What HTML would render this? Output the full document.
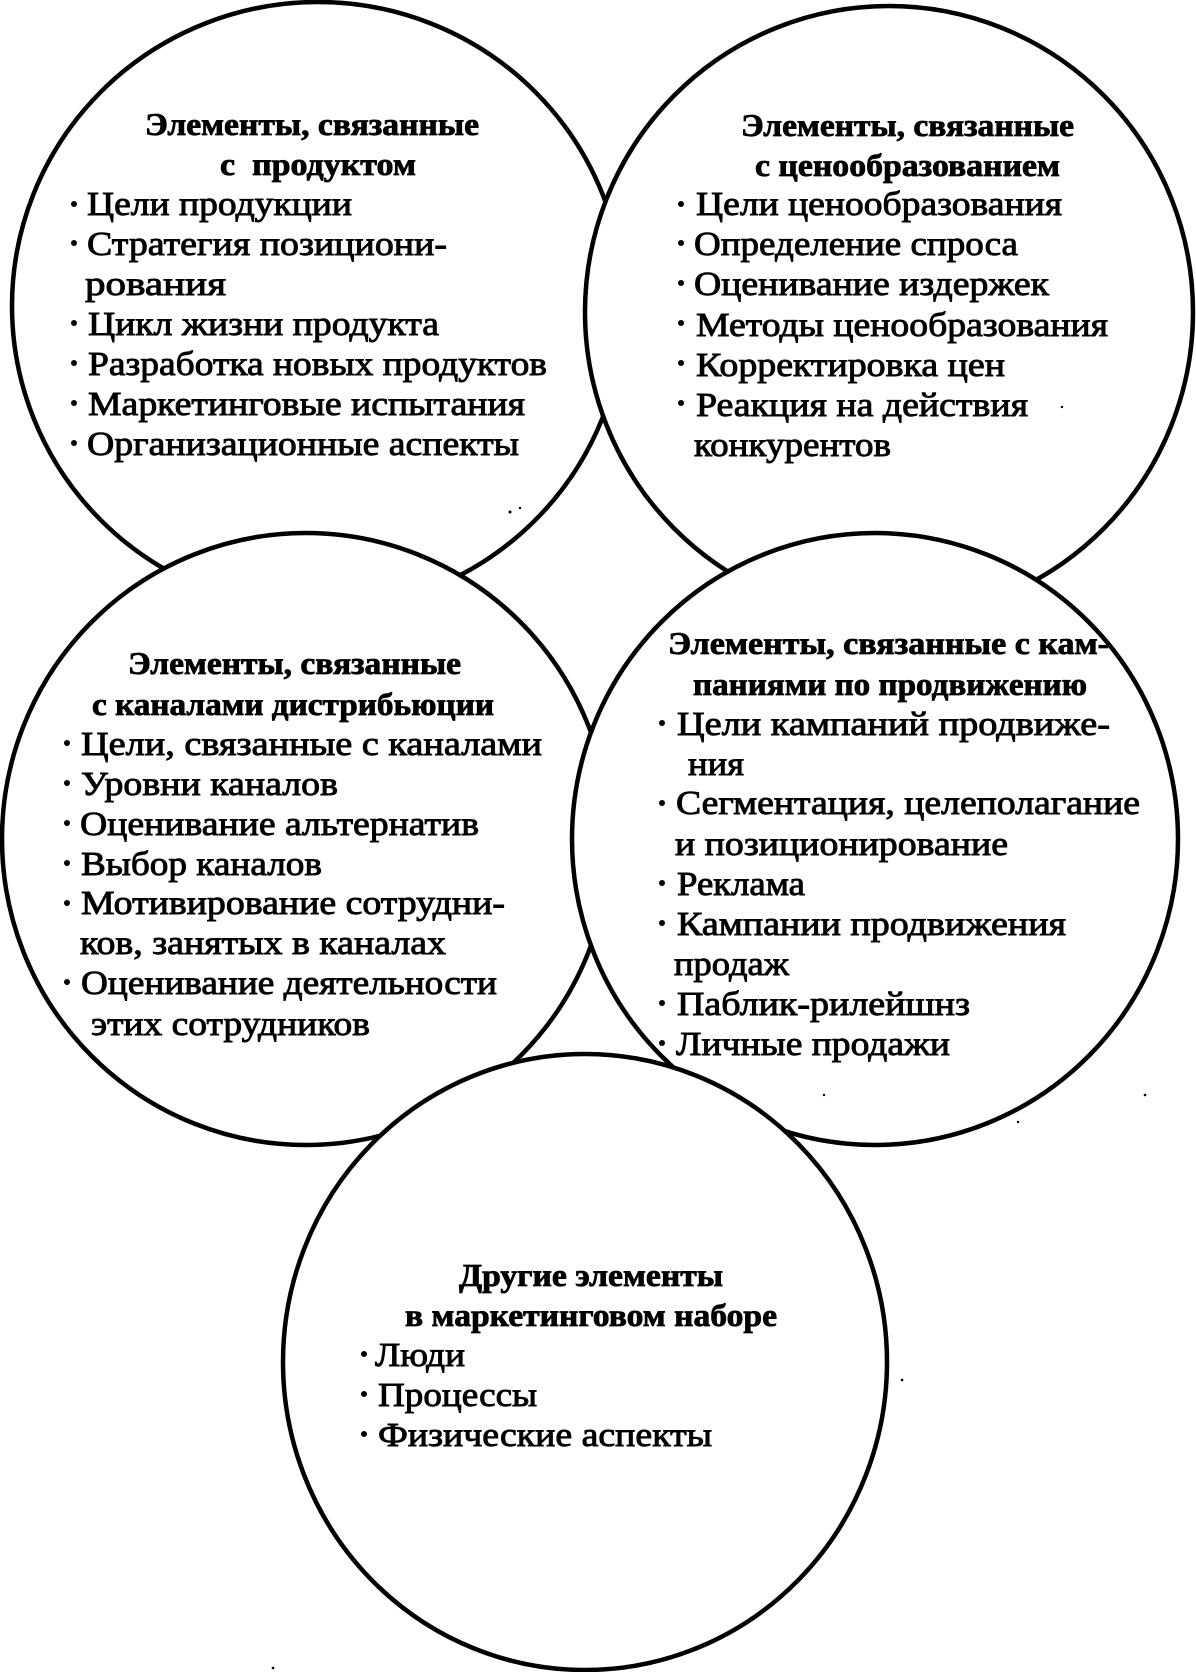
<!DOCTYPE html>
<html><head><meta charset="utf-8"><style>
html,body{margin:0;padding:0;background:#fff}
svg{display:block}
text{font-family:"Liberation Serif","Noto Serif CJK SC",serif;fill:#000}
.b{font-size:34px;stroke:#000;stroke-width:.9px}
.h{font-size:32px;font-weight:bold;stroke:#000;stroke-width:.8px}
ellipse{fill:#fff;stroke:#000;stroke-width:4.5}
circle{fill:#000}
</style></head><body>
<svg width="1196" height="1672" viewBox="0 0 1196 1672" xmlns="http://www.w3.org/2000/svg">
<ellipse cx="318" cy="306" rx="306" ry="304"/>
<ellipse cx="889" cy="312" rx="304" ry="306"/>
<ellipse cx="306" cy="839" rx="304" ry="306"/>
<ellipse cx="875" cy="839" rx="303" ry="306"/>
<ellipse cx="585" cy="1362" rx="302" ry="308"/>

<g class="t">
<text class="h" x="145" y="135" textLength="334" lengthAdjust="spacingAndGlyphs">Элементы, связанные</text>
<text class="h" x="220" y="175" textLength="196" lengthAdjust="spacingAndGlyphs" xml:space="preserve">с  продуктом</text>
<text class="b" x="87" y="215" textLength="265" lengthAdjust="spacingAndGlyphs">Цели продукции</text>
<text class="b" x="87" y="255" textLength="360" lengthAdjust="spacingAndGlyphs">Стратегия позициони-</text>
<text class="b" x="85" y="295" textLength="141" lengthAdjust="spacingAndGlyphs">рования</text>
<text class="b" x="88" y="335" textLength="351" lengthAdjust="spacingAndGlyphs">Цикл жизни продукта</text>
<text class="b" x="88" y="375" textLength="459" lengthAdjust="spacingAndGlyphs">Разработка новых продуктов</text>
<text class="b" x="88" y="415" textLength="437" lengthAdjust="spacingAndGlyphs">Маркетинговые испытания</text>
<text class="b" x="87" y="455" textLength="432" lengthAdjust="spacingAndGlyphs">Организационные аспекты</text>

<text class="h" x="741" y="136" textLength="333" lengthAdjust="spacingAndGlyphs">Элементы, связанные</text>
<text class="h" x="755" y="176" textLength="305" lengthAdjust="spacingAndGlyphs">с ценообразованием</text>
<text class="b" x="696" y="215" textLength="366" lengthAdjust="spacingAndGlyphs">Цели ценообразования</text>
<text class="b" x="694" y="255" textLength="324" lengthAdjust="spacingAndGlyphs">Определение спроса</text>
<text class="b" x="694" y="295" textLength="355" lengthAdjust="spacingAndGlyphs">Оценивание издержек</text>
<text class="b" x="696" y="336" textLength="412" lengthAdjust="spacingAndGlyphs">Методы ценообразования</text>
<text class="b" x="696" y="376" textLength="309" lengthAdjust="spacingAndGlyphs">Корректировка цен</text>
<text class="b" x="696" y="416" textLength="332" lengthAdjust="spacingAndGlyphs">Реакция на действия</text>
<text class="b" x="694" y="456" textLength="197" lengthAdjust="spacingAndGlyphs">конкурентов</text>

<text class="h" x="128" y="674" textLength="333" lengthAdjust="spacingAndGlyphs">Элементы, связанные</text>
<text class="h" x="92" y="715" textLength="402" lengthAdjust="spacingAndGlyphs">с каналами дистрибьюции</text>
<text class="b" x="81" y="755" textLength="461" lengthAdjust="spacingAndGlyphs">Цели, связанные с каналами</text>
<text class="b" x="81" y="795" textLength="257" lengthAdjust="spacingAndGlyphs">Уровни каналов</text>
<text class="b" x="80" y="835" textLength="399" lengthAdjust="spacingAndGlyphs">Оценивание альтернатив</text>
<text class="b" x="81" y="875" textLength="241" lengthAdjust="spacingAndGlyphs">Выбор каналов</text>
<text class="b" x="81" y="914" textLength="424" lengthAdjust="spacingAndGlyphs">Мотивирование сотрудни-</text>
<text class="b" x="80" y="954" textLength="366" lengthAdjust="spacingAndGlyphs">ков, занятых в каналах</text>
<text class="b" x="81" y="994" textLength="416" lengthAdjust="spacingAndGlyphs">Оценивание деятельности</text>
<text class="b" x="91" y="1035" textLength="279" lengthAdjust="spacingAndGlyphs">этих сотрудников</text>

<text class="h" x="668" y="654" textLength="441" lengthAdjust="spacingAndGlyphs">Элементы, связанные с кам-</text>
<text class="h" x="693" y="695" textLength="394" lengthAdjust="spacingAndGlyphs">паниями по продвижению</text>
<text class="b" x="677" y="735" textLength="433" lengthAdjust="spacingAndGlyphs">Цели кампаний продвиже-</text>
<text class="b" x="688" y="775" textLength="56" lengthAdjust="spacingAndGlyphs">ния</text>
<text class="b" x="676" y="814" textLength="464" lengthAdjust="spacingAndGlyphs">Сегментация, целеполагание</text>
<text class="b" x="675" y="855" textLength="333" lengthAdjust="spacingAndGlyphs">и позиционирование</text>
<text class="b" x="677" y="895" textLength="128" lengthAdjust="spacingAndGlyphs">Реклама</text>
<text class="b" x="677" y="935" textLength="389" lengthAdjust="spacingAndGlyphs">Кампании продвижения</text>
<text class="b" x="674" y="975" textLength="115" lengthAdjust="spacingAndGlyphs">продаж</text>
<text class="b" x="677" y="1015" textLength="293" lengthAdjust="spacingAndGlyphs">Паблик-рилейшнз</text>
<text class="b" x="676" y="1055" textLength="274" lengthAdjust="spacingAndGlyphs">Личные продажи</text>

<text class="h" x="459" y="1286" textLength="264" lengthAdjust="spacingAndGlyphs">Другие элементы</text>
<text class="h" x="405" y="1326" textLength="372" lengthAdjust="spacingAndGlyphs">в маркетинговом наборе</text>
<text class="b" x="375" y="1366" textLength="90" lengthAdjust="spacingAndGlyphs">Люди</text>
<text class="b" x="378" y="1406" textLength="159" lengthAdjust="spacingAndGlyphs">Процессы</text>
<text class="b" x="378" y="1446" textLength="334" lengthAdjust="spacingAndGlyphs">Физические аспекты</text>
</g>

<g>
<circle cx="74" cy="204" r="3"/><circle cx="74" cy="243" r="3"/><circle cx="74" cy="323" r="3"/><circle cx="74" cy="363" r="3"/><circle cx="74" cy="403" r="3"/><circle cx="74" cy="443" r="3"/>
<circle cx="681" cy="204" r="3"/><circle cx="681" cy="243" r="3"/><circle cx="681" cy="283" r="3"/><circle cx="681" cy="323" r="3"/><circle cx="681" cy="363" r="3"/><circle cx="681" cy="403" r="3"/>
<circle cx="67" cy="743" r="3"/><circle cx="67" cy="783" r="3"/><circle cx="67" cy="823" r="3"/><circle cx="67" cy="863" r="3"/><circle cx="67" cy="903" r="3"/><circle cx="67" cy="982" r="3"/>
<circle cx="662" cy="723" r="3"/><circle cx="662" cy="803" r="3"/><circle cx="662" cy="883" r="3"/><circle cx="662" cy="923" r="3"/><circle cx="662" cy="1003" r="3"/><circle cx="662" cy="1043" r="3"/>
<circle cx="364" cy="1354" r="3"/><circle cx="364" cy="1394" r="3"/><circle cx="364" cy="1434" r="3"/>
<circle cx="510" cy="512" r="1.5"/><circle cx="520" cy="508" r="1.2"/><circle cx="1062" cy="407" r="1.2"/><circle cx="1145" cy="1095" r="1.3"/><circle cx="824" cy="1095" r="1.2"/><circle cx="1018" cy="1122" r="1.2"/><circle cx="222" cy="1672" r="0"/><circle cx="273" cy="1668" r="1.3"/><circle cx="902" cy="1380" r="1.3"/>
</g>
</svg>
</body></html>
